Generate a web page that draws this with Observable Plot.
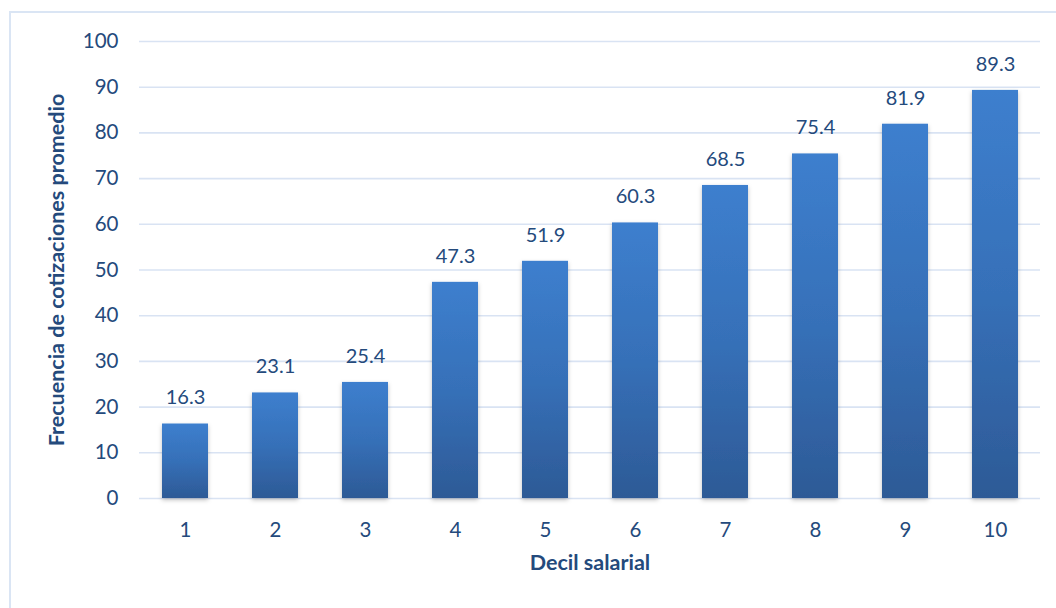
<!DOCTYPE html>
<html>
<head>
<meta charset="utf-8">
<script src="https://cdn.jsdelivr.net/npm/d3@7"></script>
<script src="https://cdn.jsdelivr.net/npm/@observablehq/plot@0.6"></script>
<style>
  html, body { margin: 0; padding: 0; background: #fff; }
  #wrap { position: relative; width: 1056px; height: 608px; overflow: hidden; }
  #frame { position: absolute; left: 9px; top: 11px; width: 1100px; height: 700px;
           border-left: 2px solid #DAE5F4; border-top: 2px solid #DAE5F4; box-sizing: border-box; }
  #chart { position: absolute; left: 0; top: 0; }
</style>
</head>
<body>
<div id="wrap"><div id="frame"></div><div id="chart"></div></div>
<script>
const deciles = ["1","2","3","4","5","6","7","8","9","10"];
const values = [16.3, 23.1, 25.4, 47.3, 51.9, 60.3, 68.5, 75.4, 81.9, 89.3];
const yTicks = [0,10,20,30,40,50,60,70,80,90,100];
const xTitle = "Decil salarial";
const yTitle = "Frecuencia de cotizaciones promedio";

const data = deciles.map((d, i) => ({decil: d, valor: values[i]}));
const textColor = "#244A7C";
const font = "Lato, 'Open Sans', sans-serif";

const chart = Plot.plot({
  width: 1056,
  height: 608,
  marginLeft: 139,
  marginRight: 16,
  marginTop: 41,
  marginBottom: 110,
  style: {fontFamily: font, background: "transparent", color: textColor},
  x: {domain: deciles, paddingInner: 0.49, paddingOuter: 0.245, label: null},
  y: {domain: [0, 100], label: null},
  marks: [
    Plot.gridY(yTicks, {stroke: "#D9E3F3", strokeOpacity: 1, strokeWidth: 1.6}),
    Plot.barY(data, {x: "decil", y: "valor", fill: "url(#barGrad)", className: "bars"}),
    Plot.text(data, {x: "decil", y: "valor", text: d => d.valor.toFixed(1), dy: -26,
                     fill: textColor, fontSize: 20}),
    Plot.axisY(yTicks, {tickSize: 0, tickPadding: 21, fontSize: 20.5, fill: textColor, label: null}),
    Plot.axisX({tickSize: 0, tickPadding: 24, fontSize: 20.5, fill: textColor, label: null}),
    Plot.text([xTitle], {frameAnchor: "bottom", dy: 71, text: d => d, fontWeight: "bold",
                         fontSize: 21.5, fill: textColor}),
    Plot.text([yTitle], {frameAnchor: "left", dx: -82, rotate: -90, textAnchor: "middle",
                         lineAnchor: "middle", text: d => d, fontWeight: "bold",
                         fontSize: 21.5, fill: textColor})
  ]
});

// gradient + subtle shadow for bars
const svgNS = "http://www.w3.org/2000/svg";
const defs = document.createElementNS(svgNS, "defs");
defs.innerHTML = `
  <linearGradient id="barGrad" x1="0" y1="0" x2="0" y2="1">
    <stop offset="0" stop-color="#3D7FCE"/>
    <stop offset="0.5" stop-color="#3670B8"/>
    <stop offset="1" stop-color="#2D5A96"/>
  </linearGradient>
  <filter id="barShadow" x="-20%" y="-5%" width="140%" height="115%">
    <feDropShadow dx="0" dy="2" stdDeviation="2" flood-color="#000" flood-opacity="0.25"/>
  </filter>`;
chart.insertBefore(defs, chart.firstChild);
const bars = chart.querySelector("g.bars") || chart.querySelector("g[aria-label='bar']");
if (bars) bars.setAttribute("filter", "url(#barShadow)");

document.getElementById("chart").appendChild(chart);
</script>
</body>
</html>
